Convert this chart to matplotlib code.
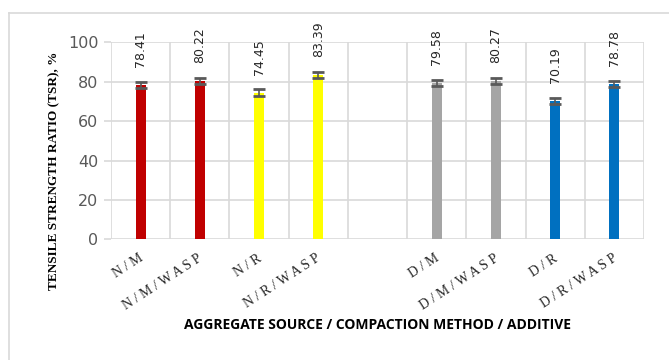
import numpy as np
import matplotlib
matplotlib.use("Agg")
import matplotlib.pyplot as plt
from matplotlib.lines import Line2D

# Data (blank slot separates natural / dredged groups)
categories = ["N/M", "N/M/WASP", "N/R", "N/R/WASP", "",
              "D/M", "D/M/WASP", "D/R", "D/R/WASP"]
tsr = [78.41, 80.22, 74.45, 83.39, np.nan, 79.58, 80.27, 70.19, 78.78]
tsr_err = [1.5, 1.5, 1.7, 1.4, np.nan, 1.5, 1.5, 1.5, 1.5]
bar_colors = ["#C00000", "#C00000", "#FFFF00", "#FFFF00", "none",
              "#A5A5A5", "#A5A5A5", "#0070C0", "#0070C0"]

GRID = "#d9d9d9"

fig = plt.figure(figsize=(6.69, 3.60), dpi=100)
ax = fig.add_axes([111 / 669, 1 - 239.3 / 360, 533 / 669, 196.8 / 360])

# outer chart border: only top and left edges fall inside the crop
bx, by = 9 / 669, 1 - 13 / 360
fig.lines.append(Line2D([bx, 1.0], [by, by], transform=fig.transFigure,
                        color=GRID, linewidth=1.2))
fig.lines.append(Line2D([bx, bx], [0.0, by], transform=fig.transFigure,
                        color=GRID, linewidth=1.2))

x = np.arange(len(categories))
ax.bar(x, tsr, width=0.17, color=bar_colors, zorder=3)
ax.errorbar(x, tsr, yerr=tsr_err, fmt="none", ecolor="#595959",
            elinewidth=1.2, capsize=4.5, capthick=2, zorder=4)

for xi, v in zip(x, tsr):
    if np.isnan(v):
        continue
    ax.annotate(f"{v:.2f}", (xi, v), xytext=(0, 13), textcoords="offset points",
                rotation=90, ha="center", va="bottom", fontsize=9,
                color="#262626", family="DejaVu Sans")

ax.set_xlim(-0.5, len(categories) - 0.5)
ax.set_ylim(0, 100)
ax.set_yticks(np.arange(0, 101, 20))
ax.set_xticks(np.arange(-0.5, len(categories)), minor=False)
ax.set_xticklabels([])
ax.tick_params(axis="x", length=0)
ax.tick_params(axis="y", length=5, color=GRID, width=1.2, labelsize=11.5,
               labelcolor="#595959", pad=4)
ax.grid(True, color=GRID, linewidth=1.2, zorder=0)
for s in ax.spines.values():
    s.set_visible(False)

# serif category labels, letter spaced, slanted
for xi, lab in zip(x, categories):
    if not lab:
        continue
    spaced = " ".join(lab)
    ax.annotate(spaced, (xi, 0), xytext=(1, -13), textcoords="offset points",
                rotation=33, rotation_mode="anchor", ha="right", va="center",
                fontsize=10, family="Liberation Serif", color="#262626")

ax.set_ylabel("TENSILE STRENGTH RATIO (TSR), %", family="Liberation Serif",
              fontweight="bold", fontsize=9.5)
ax.yaxis.set_label_coords(-0.096, 0.347)

fig.text((183 + 572) / 2 / 669, 1 - 325 / 360,
         "AGGREGATE SOURCE / COMPACTION METHOD / ADDITIVE",
         ha="center", va="center", fontsize=10, fontweight="bold",
         family="Open Sans", color="black")

fig.savefig("out.png", dpi=100)
